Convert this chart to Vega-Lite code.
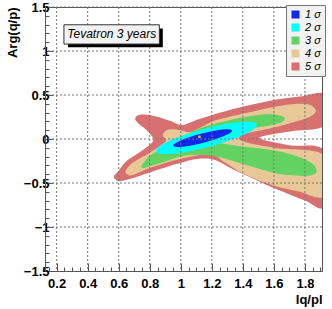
{
  "$schema": "https://vega.github.io/schema/vega-lite/v6.json",
  "width": 277,
  "height": 264,
  "autosize": {"type": "none"},
  "padding": {"left": 45, "top": 7, "right": 10, "bottom": 38},
  "background": "white",
  "config": {
    "view": {"stroke": "#555", "strokeWidth": 1},
    "font": "Liberation Sans"
  },
  "datasets": {
    "contours": [
      {"level": "5 σ", "i": 0, "x": 0.57, "y": -0.42},
      {"level": "5 σ", "i": 1, "x": 0.6, "y": -0.36},
      {"level": "5 σ", "i": 2, "x": 0.65, "y": -0.25},
      {"level": "5 σ", "i": 3, "x": 0.735, "y": -0.15},
      {"level": "5 σ", "i": 4, "x": 0.822, "y": -0.02},
      {"level": "5 σ", "i": 5, "x": 0.78, "y": 0.1},
      {"level": "5 σ", "i": 6, "x": 0.725, "y": 0.18},
      {"level": "5 σ", "i": 7, "x": 0.706, "y": 0.234},
      {"level": "5 σ", "i": 8, "x": 0.736, "y": 0.276},
      {"level": "5 σ", "i": 9, "x": 0.822, "y": 0.265},
      {"level": "5 σ", "i": 10, "x": 0.929, "y": 0.208},
      {"level": "5 σ", "i": 11, "x": 1.01, "y": 0.16},
      {"level": "5 σ", "i": 12, "x": 1.12, "y": 0.227},
      {"level": "5 σ", "i": 13, "x": 1.337, "y": 0.34},
      {"level": "5 σ", "i": 14, "x": 1.552, "y": 0.427},
      {"level": "5 σ", "i": 15, "x": 1.766, "y": 0.482},
      {"level": "5 σ", "i": 16, "x": 1.93, "y": 0.505},
      {"level": "5 σ", "i": 17, "x": 1.93, "y": 0.16},
      {"level": "5 σ", "i": 18, "x": 1.734, "y": 0.094},
      {"level": "5 σ", "i": 19, "x": 1.6, "y": 0.057},
      {"level": "5 σ", "i": 20, "x": 1.51, "y": 0.007},
      {"level": "5 σ", "i": 21, "x": 1.7, "y": -0.07},
      {"level": "5 σ", "i": 22, "x": 1.93, "y": -0.144},
      {"level": "5 σ", "i": 23, "x": 1.93, "y": -0.76},
      {"level": "5 σ", "i": 24, "x": 1.8, "y": -0.7},
      {"level": "5 σ", "i": 25, "x": 1.66, "y": -0.6},
      {"level": "5 σ", "i": 26, "x": 1.55, "y": -0.52},
      {"level": "5 σ", "i": 27, "x": 1.44, "y": -0.43},
      {"level": "5 σ", "i": 28, "x": 1.32, "y": -0.33},
      {"level": "5 σ", "i": 29, "x": 1.22, "y": -0.24},
      {"level": "5 σ", "i": 30, "x": 1.12, "y": -0.225},
      {"level": "5 σ", "i": 31, "x": 1.0, "y": -0.27},
      {"level": "5 σ", "i": 32, "x": 0.8, "y": -0.38},
      {"level": "5 σ", "i": 33, "x": 0.68, "y": -0.45},
      {"level": "5 σ", "i": 34, "x": 0.61, "y": -0.48},
      {"level": "5 σ", "i": 35, "x": 0.58, "y": -0.46},

      {"level": "4 σ", "i": 0, "x": 0.645, "y": -0.36},
      {"level": "4 σ", "i": 1, "x": 0.69, "y": -0.27},
      {"level": "4 σ", "i": 2, "x": 0.8, "y": -0.155},
      {"level": "4 σ", "i": 3, "x": 0.88, "y": -0.06},
      {"level": "4 σ", "i": 4, "x": 0.905, "y": -0.02},
      {"level": "4 σ", "i": 5, "x": 0.885, "y": 0.04},
      {"level": "4 σ", "i": 6, "x": 0.895, "y": 0.08},
      {"level": "4 σ", "i": 7, "x": 0.93, "y": 0.11},
      {"level": "4 σ", "i": 8, "x": 1.0, "y": 0.1},
      {"level": "4 σ", "i": 9, "x": 1.06, "y": 0.08},
      {"level": "4 σ", "i": 10, "x": 1.15, "y": 0.15},
      {"level": "4 σ", "i": 11, "x": 1.23, "y": 0.215},
      {"level": "4 σ", "i": 12, "x": 1.42, "y": 0.295},
      {"level": "4 σ", "i": 13, "x": 1.6, "y": 0.365},
      {"level": "4 σ", "i": 14, "x": 1.75, "y": 0.4},
      {"level": "4 σ", "i": 15, "x": 1.83, "y": 0.39},
      {"level": "4 σ", "i": 16, "x": 1.87, "y": 0.33},
      {"level": "4 σ", "i": 17, "x": 1.855, "y": 0.28},
      {"level": "4 σ", "i": 18, "x": 1.8, "y": 0.23},
      {"level": "4 σ", "i": 19, "x": 1.6, "y": 0.13},
      {"level": "4 σ", "i": 20, "x": 1.41, "y": 0.055},
      {"level": "4 σ", "i": 21, "x": 1.39, "y": -0.02},
      {"level": "4 σ", "i": 22, "x": 1.6, "y": -0.1},
      {"level": "4 σ", "i": 23, "x": 1.93, "y": -0.19},
      {"level": "4 σ", "i": 24, "x": 1.93, "y": -0.645},
      {"level": "4 σ", "i": 25, "x": 1.75, "y": -0.59},
      {"level": "4 σ", "i": 26, "x": 1.6, "y": -0.53},
      {"level": "4 σ", "i": 27, "x": 1.41, "y": -0.4},
      {"level": "4 σ", "i": 28, "x": 1.28, "y": -0.26},
      {"level": "4 σ", "i": 29, "x": 1.19, "y": -0.175},
      {"level": "4 σ", "i": 30, "x": 1.0, "y": -0.225},
      {"level": "4 σ", "i": 31, "x": 0.8, "y": -0.33},
      {"level": "4 σ", "i": 32, "x": 0.69, "y": -0.41},
      {"level": "4 σ", "i": 33, "x": 0.655, "y": -0.4},

      {"level": "3 σ", "i": 0, "x": 0.745, "y": -0.31},
      {"level": "3 σ", "i": 1, "x": 0.77, "y": -0.25},
      {"level": "3 σ", "i": 2, "x": 0.8, "y": -0.19},
      {"level": "3 σ", "i": 3, "x": 0.9, "y": -0.09},
      {"level": "3 σ", "i": 4, "x": 1.0, "y": 0.01},
      {"level": "3 σ", "i": 5, "x": 1.08, "y": 0.09},
      {"level": "3 σ", "i": 6, "x": 1.2, "y": 0.165},
      {"level": "3 σ", "i": 7, "x": 1.34, "y": 0.225},
      {"level": "3 σ", "i": 8, "x": 1.45, "y": 0.26},
      {"level": "3 σ", "i": 9, "x": 1.55, "y": 0.28},
      {"level": "3 σ", "i": 10, "x": 1.63, "y": 0.27},
      {"level": "3 σ", "i": 11, "x": 1.67, "y": 0.235},
      {"level": "3 σ", "i": 12, "x": 1.65, "y": 0.19},
      {"level": "3 σ", "i": 13, "x": 1.58, "y": 0.155},
      {"level": "3 σ", "i": 14, "x": 1.45, "y": 0.12},
      {"level": "3 σ", "i": 15, "x": 1.33, "y": 0.08},
      {"level": "3 σ", "i": 16, "x": 1.25, "y": 0.04},
      {"level": "3 σ", "i": 17, "x": 1.19, "y": -0.02},
      {"level": "3 σ", "i": 18, "x": 1.3, "y": -0.06},
      {"level": "3 σ", "i": 19, "x": 1.4, "y": -0.085},
      {"level": "3 σ", "i": 20, "x": 1.5, "y": -0.105},
      {"level": "3 σ", "i": 21, "x": 1.6, "y": -0.13},
      {"level": "3 σ", "i": 22, "x": 1.72, "y": -0.18},
      {"level": "3 σ", "i": 23, "x": 1.84, "y": -0.27},
      {"level": "3 σ", "i": 24, "x": 1.875, "y": -0.35},
      {"level": "3 σ", "i": 25, "x": 1.86, "y": -0.4},
      {"level": "3 σ", "i": 26, "x": 1.8, "y": -0.42},
      {"level": "3 σ", "i": 27, "x": 1.7, "y": -0.41},
      {"level": "3 σ", "i": 28, "x": 1.6, "y": -0.385},
      {"level": "3 σ", "i": 29, "x": 1.4, "y": -0.285},
      {"level": "3 σ", "i": 30, "x": 1.3, "y": -0.23},
      {"level": "3 σ", "i": 31, "x": 1.2, "y": -0.19},
      {"level": "3 σ", "i": 32, "x": 1.1, "y": -0.18},
      {"level": "3 σ", "i": 33, "x": 1.0, "y": -0.2},
      {"level": "3 σ", "i": 34, "x": 0.9, "y": -0.255},
      {"level": "3 σ", "i": 35, "x": 0.8, "y": -0.31},
      {"level": "3 σ", "i": 36, "x": 0.76, "y": -0.33},

      {"level": "2 σ", "i": 0, "x": 1.49, "y": 0.16},
      {"level": "2 σ", "i": 1, "x": 1.4465, "y": 0.195},
      {"level": "2 σ", "i": 2, "x": 1.3275, "y": 0.181},
      {"level": "2 σ", "i": 3, "x": 1.165, "y": 0.1225},
      {"level": "2 σ", "i": 4, "x": 1.0025, "y": 0.034},
      {"level": "2 σ", "i": 5, "x": 0.8835, "y": -0.06},
      {"level": "2 σ", "i": 6, "x": 0.84, "y": -0.135},
      {"level": "2 σ", "i": 7, "x": 0.8835, "y": -0.17},
      {"level": "2 σ", "i": 8, "x": 1.0025, "y": -0.157},
      {"level": "2 σ", "i": 9, "x": 1.165, "y": -0.0975},
      {"level": "2 σ", "i": 10, "x": 1.3275, "y": -0.009},
      {"level": "2 σ", "i": 11, "x": 1.4465, "y": 0.085},

      {"level": "1 σ", "i": 0, "x": 1.33, "y": 0.095},
      {"level": "1 σ", "i": 1, "x": 1.305, "y": 0.111},
      {"level": "1 σ", "i": 2, "x": 1.235, "y": 0.1},
      {"level": "1 σ", "i": 3, "x": 1.14, "y": 0.065},
      {"level": "1 σ", "i": 4, "x": 1.045, "y": 0.015},
      {"level": "1 σ", "i": 5, "x": 0.975, "y": -0.036},
      {"level": "1 σ", "i": 6, "x": 0.95, "y": -0.075},
      {"level": "1 σ", "i": 7, "x": 0.975, "y": -0.091},
      {"level": "1 σ", "i": 8, "x": 1.045, "y": -0.08},
      {"level": "1 σ", "i": 9, "x": 1.14, "y": -0.045},
      {"level": "1 σ", "i": 10, "x": 1.235, "y": 0.005},
      {"level": "1 σ", "i": 11, "x": 1.305, "y": 0.056}
    ],
    "gridx": [{"v": 0.2}, {"v": 0.4}, {"v": 0.6}, {"v": 0.8}, {"v": 1.0}, {"v": 1.2}, {"v": 1.4}, {"v": 1.6}, {"v": 1.8}],
    "gridy": [{"v": -1.0}, {"v": -0.5}, {"v": 0.0}, {"v": 0.5}, {"v": 1.0}, {"v": 1.5}],
    "best": [{"x": 1.12, "y": 0.025}],
    "box": [
      {"part": "shadow", "x": 0.273, "x2": 0.884, "y": 1.257, "y2": 1.042},
      {"part": "box", "x": 0.247, "x2": 0.862, "y": 1.298, "y2": 1.079}
    ],
    "label": [{"x": 0.555, "y": 1.19, "text": "Tevatron 3 years"}]
  },
  "resolve": {"axis": {"x": "independent", "y": "independent"}},
  "layer": [
    {
      "data": {"name": "contours"},
      "transform": [{"filter": "datum.level === '5 σ'"}],
      "mark": {"type": "line", "filled": true, "clip": true, "interpolate": "cardinal-closed", "strokeWidth": 0},
      "encoding": {
        "x": {"field": "x", "type": "quantitative", "scale": {"domain": [0.125, 1.91], "nice": false, "zero": false},
          "axis": {"orient": "bottom", "title": "Iq/pl", "values": [0.2, 0.4, 0.6, 0.8, 1.0, 1.2, 1.4, 1.6, 1.8], "format": "~g", "grid": false,
            "domainColor": "#555", "tickColor": "#555", "tickSize": -8, "labelPadding": 14, "labelFont": "Liberation Sans", "labelFontWeight": "bold", "labelFontSize": 13, "labelColor": "black",
            "titleFont": "Liberation Sans", "titleFontWeight": "bold", "titleFontSize": 13, "titleAnchor": "end", "titlePadding": 3, "titleColor": "black", "labelFlush": false, "labelOverlap": false}},
        "y": {"field": "y", "type": "quantitative", "scale": {"domain": [-1.5, 1.5], "nice": false, "zero": false},
          "axis": {"orient": "left", "title": "Arg(q/p)", "values": [-1.5, -1, -0.5, 0, 0.5, 1, 1.5], "format": "~g", "grid": false,
            "domainColor": "#555", "tickColor": "#555", "tickSize": -8, "labelPadding": 4, "labelFont": "Liberation Sans", "labelFontWeight": "bold", "labelFontSize": 13, "labelColor": "black",
            "titleFont": "Liberation Sans", "titleFontWeight": "bold", "titleFontSize": 13, "titleAnchor": "end", "titlePadding": 4, "titleColor": "black", "labelFlush": false, "labelOverlap": false}},
        "color": {"field": "level", "type": "nominal",
          "scale": {"domain": ["1 σ", "2 σ", "3 σ", "4 σ", "5 σ"], "range": ["#1228e8", "#00ffff", "#62d262", "#e8c896", "#d87070"]},
          "legend": {"orient": "none", "legendX": 241, "legendY": -2, "title": null, "symbolType": "square", "symbolSize": 64, "symbolStrokeWidth": 0,
            "labelFont": "Liberation Sans", "labelFontStyle": "italic", "labelFontSize": 11, "labelColor": "black", "labelOffset": 4,
            "fillColor": "#f2f2f2", "strokeColor": "#777", "padding": 4, "rowPadding": 1}},
        "order": {"field": "i", "type": "quantitative"}
      }
    },
    {
      "data": {"name": "contours"},
      "transform": [{"filter": "datum.level === '4 σ'"}],
      "mark": {"type": "line", "filled": true, "clip": true, "interpolate": "cardinal-closed", "strokeWidth": 0},
      "encoding": {
        "x": {"field": "x", "type": "quantitative", "axis": null},
        "y": {"field": "y", "type": "quantitative", "axis": null},
        "color": {"field": "level", "type": "nominal"},
        "order": {"field": "i", "type": "quantitative"}
      }
    },
    {
      "data": {"name": "contours"},
      "transform": [{"filter": "datum.level === '3 σ'"}],
      "mark": {"type": "line", "filled": true, "clip": true, "interpolate": "cardinal-closed", "strokeWidth": 0},
      "encoding": {
        "x": {"field": "x", "type": "quantitative", "axis": null},
        "y": {"field": "y", "type": "quantitative", "axis": null},
        "color": {"field": "level", "type": "nominal"},
        "order": {"field": "i", "type": "quantitative"}
      }
    },
    {
      "data": {"name": "contours"},
      "transform": [{"filter": "datum.level === '2 σ'"}],
      "mark": {"type": "line", "filled": true, "clip": true, "interpolate": "cardinal-closed", "strokeWidth": 0},
      "encoding": {
        "x": {"field": "x", "type": "quantitative", "axis": null},
        "y": {"field": "y", "type": "quantitative", "axis": null},
        "color": {"field": "level", "type": "nominal"},
        "order": {"field": "i", "type": "quantitative"}
      }
    },
    {
      "data": {"name": "contours"},
      "transform": [{"filter": "datum.level === '1 σ'"}],
      "mark": {"type": "line", "filled": true, "clip": true, "interpolate": "cardinal-closed", "strokeWidth": 0},
      "encoding": {
        "x": {"field": "x", "type": "quantitative", "axis": null},
        "y": {"field": "y", "type": "quantitative", "axis": null},
        "color": {"field": "level", "type": "nominal"},
        "order": {"field": "i", "type": "quantitative"}
      }
    },
    {
      "data": {"name": "gridx"},
      "mark": {"type": "rule", "color": "#777", "strokeDash": [2, 2], "strokeWidth": 1},
      "encoding": {"x": {"field": "v", "type": "quantitative", "axis": null}}
    },
    {
      "data": {"name": "gridy"},
      "mark": {"type": "rule", "color": "#777", "strokeDash": [2, 2], "strokeWidth": 1},
      "encoding": {"y": {"field": "v", "type": "quantitative", "axis": null}}
    },
    {
      "data": {"name": "best"},
      "mark": {"type": "square", "color": "#f0c000", "size": 6, "opacity": 1},
      "encoding": {
        "x": {"field": "x", "type": "quantitative",
          "axis": {"orient": "bottom", "labels": false, "grid": false, "domain": false, "title": null, "tickColor": "#555", "tickSize": -4,
            "values": [0.15, 0.25, 0.3, 0.35, 0.45, 0.5, 0.55, 0.65, 0.7, 0.75, 0.85, 0.9, 0.95, 1.05, 1.1, 1.15, 1.25, 1.3, 1.35, 1.45, 1.5, 1.55, 1.65, 1.7, 1.75, 1.85, 1.9]}},
        "y": {"field": "y", "type": "quantitative",
          "axis": {"orient": "left", "labels": false, "grid": false, "domain": false, "title": null, "tickColor": "#555", "tickSize": -4,
            "values": [-1.4, -1.3, -1.2, -1.1, -0.9, -0.8, -0.7, -0.6, -0.4, -0.3, -0.2, -0.1, 0.1, 0.2, 0.3, 0.4, 0.6, 0.7, 0.8, 0.9, 1.1, 1.2, 1.3, 1.4]}}
      }
    },
    {
      "data": {"name": "box"},
      "transform": [{"filter": "datum.part === 'shadow'"}],
      "mark": {"type": "rect", "color": "black"},
      "encoding": {
        "x": {"field": "x", "type": "quantitative", "axis": null},
        "x2": {"field": "x2"},
        "y": {"field": "y", "type": "quantitative", "axis": null},
        "y2": {"field": "y2"}
      }
    },
    {
      "data": {"name": "box"},
      "transform": [{"filter": "datum.part === 'box'"}],
      "mark": {"type": "rect", "fill": "#f3f3f3", "stroke": "#333", "strokeWidth": 1},
      "encoding": {
        "x": {"field": "x", "type": "quantitative", "axis": null},
        "x2": {"field": "x2"},
        "y": {"field": "y", "type": "quantitative", "axis": null},
        "y2": {"field": "y2"}
      }
    },
    {
      "data": {"name": "label"},
      "mark": {"type": "text", "font": "Liberation Sans", "fontStyle": "italic", "fontSize": 12, "color": "black", "align": "center", "baseline": "middle"},
      "encoding": {
        "x": {"field": "x", "type": "quantitative", "axis": null},
        "y": {"field": "y", "type": "quantitative", "axis": null},
        "text": {"field": "text"}
      }
    }
  ]
}
